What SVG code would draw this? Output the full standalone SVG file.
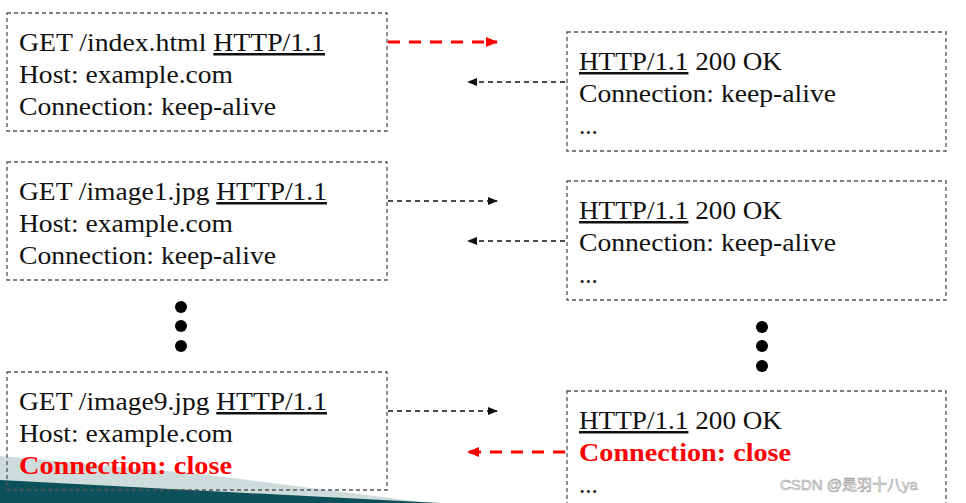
<svg xmlns="http://www.w3.org/2000/svg" width="966" height="503" viewBox="0 0 966 503">
<style>
.box{fill:none;stroke:#555;stroke-width:1.3;stroke-dasharray:4 3}
.t{font-family:"Liberation Serif",serif;font-size:25px;fill:#111}
.r{fill:#f00;font-weight:bold}
.u{text-decoration:underline}
.k{stroke:#111;stroke-width:1.3;stroke-dasharray:5 4;fill:none}
.rd{stroke:#f00;stroke-width:3;stroke-dasharray:12 9;fill:none}
</style>
<defs>
<marker id="ak" markerWidth="10" markerHeight="8" refX="9" refY="4" orient="auto" markerUnits="userSpaceOnUse"><path d="M0,0L10,4L0,8z" fill="#111"/></marker>
<marker id="ar" markerWidth="12" markerHeight="10" refX="11" refY="5" orient="auto" markerUnits="userSpaceOnUse"><path d="M0,0L12,5L0,10z" fill="#f00"/></marker>
</defs>
<rect width="966" height="503" fill="#fff"/>
<polygon points="0,456 200,474 430,503 0,503" fill="#cfdcdc"/>
<polygon points="0,480 440,503 0,503" fill="#0c5159"/>
<g id="req1"><rect class="box" x="7" y="13" width="380" height="118"/>
<text class="t" x="19" y="51" textLength="306" lengthAdjust="spacingAndGlyphs">GET /index.html <tspan class="u">HTTP/1.1</tspan></text>
<text class="t" x="19" y="83" textLength="214" lengthAdjust="spacingAndGlyphs">Host: example.com</text>
<text class="t" x="19" y="115" textLength="257" lengthAdjust="spacingAndGlyphs">Connection: keep-alive</text></g>
<g id="req2"><rect class="box" x="7" y="162" width="380" height="118"/>
<text class="t" x="19" y="200" textLength="308" lengthAdjust="spacingAndGlyphs">GET /image1.jpg <tspan class="u">HTTP/1.1</tspan></text>
<text class="t" x="19" y="232" textLength="214" lengthAdjust="spacingAndGlyphs">Host: example.com</text>
<text class="t" x="19" y="264" textLength="257" lengthAdjust="spacingAndGlyphs">Connection: keep-alive</text></g>
<g id="req3"><rect class="box" x="7" y="372" width="380" height="118"/>
<text class="t" x="19" y="410" textLength="308" lengthAdjust="spacingAndGlyphs">GET /image9.jpg <tspan class="u">HTTP/1.1</tspan></text>
<text class="t" x="19" y="442" textLength="214" lengthAdjust="spacingAndGlyphs">Host: example.com</text>
<text class="t r" x="19" y="474" textLength="213" lengthAdjust="spacingAndGlyphs">Connection: close</text></g>
<g id="res1"><rect class="box" x="567" y="32" width="379" height="119"/>
<text class="t" x="579" y="70" textLength="203" lengthAdjust="spacingAndGlyphs"><tspan class="u">HTTP/1.1</tspan> 200 OK</text>
<text class="t" x="579" y="102" textLength="257" lengthAdjust="spacingAndGlyphs">Connection: keep-alive</text>
<text class="t" x="579" y="134">...</text></g>
<g id="res2"><rect class="box" x="567" y="181" width="379" height="119"/>
<text class="t" x="579" y="219" textLength="203" lengthAdjust="spacingAndGlyphs"><tspan class="u">HTTP/1.1</tspan> 200 OK</text>
<text class="t" x="579" y="251" textLength="257" lengthAdjust="spacingAndGlyphs">Connection: keep-alive</text>
<text class="t" x="579" y="283">...</text></g>
<g id="res3"><rect class="box" x="567" y="391" width="379" height="130"/>
<text class="t" x="579" y="429" textLength="203" lengthAdjust="spacingAndGlyphs"><tspan class="u">HTTP/1.1</tspan> 200 OK</text>
<text class="t r" x="579" y="461" textLength="212" lengthAdjust="spacingAndGlyphs">Connection: close</text>
<text class="t" x="579" y="493">...</text></g>
<g id="connectors">
<line class="rd" x1="388" y1="42" x2="497" y2="42" marker-end="url(#ar)"/>
<line class="k" x1="565" y1="82" x2="468" y2="82" marker-end="url(#ak)"/>
<line class="k" x1="388" y1="201" x2="497" y2="201" marker-end="url(#ak)"/>
<line class="k" x1="565" y1="241" x2="468" y2="241" marker-end="url(#ak)"/>
<line class="k" x1="388" y1="411" x2="497" y2="411" marker-end="url(#ak)"/>
<line class="rd" x1="565" y1="452" x2="468" y2="452" marker-end="url(#ar)"/>
</g>
<g id="dots" fill="#000">
<circle cx="181" cy="307" r="6"/><circle cx="181" cy="326" r="6"/><circle cx="181" cy="346" r="6"/>
<circle cx="762" cy="327" r="6"/><circle cx="762" cy="346" r="6"/><circle cx="762" cy="366" r="6"/>
</g>
<text x="780" y="490" font-family="'Liberation Sans','Noto Sans CJK SC',sans-serif" font-size="15" fill="#fff" stroke="#999" stroke-width="0.6">CSDN @是羽十八ya</text>
</svg>
